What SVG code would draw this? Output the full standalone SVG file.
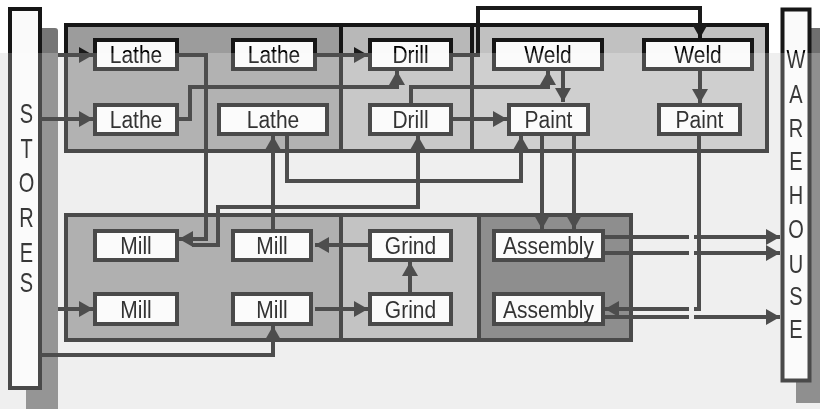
<svg xmlns="http://www.w3.org/2000/svg" width="820" height="409" viewBox="0 0 820 409">
<style>
.box{fill:#fbfbfb;stroke:#4a4a4a;stroke-width:4}
.lbl{font-family:"Liberation Sans",Arial,sans-serif;font-size:21px;fill:#333;text-anchor:middle}
.vl{font-family:"Liberation Sans",Arial,sans-serif;font-size:20px;fill:#383838;text-anchor:middle}
.con{fill:none;stroke:#4d4d4d;stroke-width:4}
.arr{marker-end:url(#ah)}
.frame{fill:none;stroke:#4a4a4a;stroke-width:4}
.dv{stroke:#4a4a4a;stroke-width:4}
.bar{fill:#fbfbfb;stroke:#4a4a4a;stroke-width:4}
</style>
<defs>
<marker id="ah" viewBox="0 0 14 16" markerWidth="14" markerHeight="16" refX="14" refY="8" orient="auto" markerUnits="userSpaceOnUse"><path d="M0,0 L14,8 L0,16 Z" fill="#4d4d4d"/></marker>
</defs>
<rect x="0" y="0" width="820" height="409" fill="#efefef"/>
<rect x="0" y="0" width="820" height="53" fill="#ffffff"/>

<g id="stores">
<rect x="26" y="28" width="32" height="400" rx="3" fill="#959595"/>
<rect class="bar" x="10" y="9" width="30" height="379"/>
<text class="vl" transform="translate(26.5,123) scale(1,1.35)">S</text>
<text class="vl" transform="translate(26.5,158) scale(1,1.35)">T</text>
<text class="vl" transform="translate(26.5,192) scale(1,1.35)">O</text>
<text class="vl" transform="translate(26.5,227) scale(1,1.35)">R</text>
<text class="vl" transform="translate(26.5,262) scale(1,1.35)">E</text>
<text class="vl" transform="translate(26.5,292) scale(1,1.35)">S</text>
</g>

<g id="warehouse">
<rect x="796" y="28" width="40" height="375" fill="#8f8f8f"/>
<rect class="bar" x="782.5" y="9.5" width="27" height="371"/>
<text class="vl" transform="translate(796,68) scale(1,1.25)">W</text>
<text class="vl" transform="translate(796,103) scale(1,1.25)">A</text>
<text class="vl" transform="translate(796,137) scale(1,1.25)">R</text>
<text class="vl" transform="translate(796,170) scale(1,1.25)">E</text>
<text class="vl" transform="translate(796,204) scale(1,1.25)">H</text>
<text class="vl" transform="translate(796,238) scale(1,1.25)">O</text>
<text class="vl" transform="translate(796,273) scale(1,1.25)">U</text>
<text class="vl" transform="translate(796,305) scale(1,1.25)">S</text>
<text class="vl" transform="translate(796,338) scale(1,1.25)">E</text>
</g>

<g id="upper-shop">
<rect x="66" y="25" width="275" height="126" fill="#b2b2b2"/>
<rect x="341" y="25" width="131" height="126" fill="#c8c8c8"/>
<rect x="472" y="25" width="295" height="126" fill="#cfcfcf"/>
<line class="dv" x1="341" y1="25" x2="341" y2="151"/>
<line class="dv" x1="472" y1="25" x2="472" y2="151"/>
<rect class="frame" x="66" y="25" width="701" height="126"/>
</g>

<g id="lower-shop">
<rect x="66" y="215" width="275" height="125" fill="#b0b0b0"/>
<rect x="341" y="215" width="138" height="125" fill="#c3c3c3"/>
<rect x="479" y="215" width="152" height="125" fill="#8e8e8e"/>
<line class="dv" x1="341" y1="215" x2="341" y2="340"/>
<line class="dv" x1="479" y1="215" x2="479" y2="340"/>
<rect class="frame" x="66" y="215" width="565" height="125"/>
</g>

<g id="lathe1"><rect class="box" x="95" y="40" width="82" height="29"/><text class="lbl" transform="translate(136,63) scale(1,1.12)">Lathe</text></g>
<g id="lathe2"><rect class="box" x="233" y="40" width="82" height="29"/><text class="lbl" transform="translate(274,63) scale(1,1.12)">Lathe</text></g>
<g id="drill1"><rect class="box" x="370" y="40" width="81" height="29"/><text class="lbl" transform="translate(410.5,63) scale(1,1.12)">Drill</text></g>
<g id="weld1"><rect class="box" x="494" y="40" width="108" height="29"/><text class="lbl" transform="translate(548,63) scale(1,1.12)">Weld</text></g>
<g id="weld2"><rect class="box" x="644" y="40" width="108" height="29"/><text class="lbl" transform="translate(698,63) scale(1,1.12)">Weld</text></g>

<g id="lathe3"><rect class="box" x="95" y="105" width="82" height="29"/><text class="lbl" transform="translate(136,128) scale(1,1.12)">Lathe</text></g>
<g id="lathe4"><rect class="box" x="219" y="105" width="108" height="29"/><text class="lbl" transform="translate(273,128) scale(1,1.12)">Lathe</text></g>
<g id="drill2"><rect class="box" x="370" y="105" width="81" height="29"/><text class="lbl" transform="translate(410.5,128) scale(1,1.12)">Drill</text></g>
<g id="paint1"><rect class="box" x="509" y="105" width="79" height="29"/><text class="lbl" transform="translate(548.5,128) scale(1,1.12)">Paint</text></g>
<g id="paint2"><rect class="box" x="659" y="105" width="81" height="29"/><text class="lbl" transform="translate(699.5,128) scale(1,1.12)">Paint</text></g>

<g id="mill1"><rect class="box" x="95" y="231" width="82" height="29"/><text class="lbl" transform="translate(136,254) scale(1,1.12)">Mill</text></g>
<g id="mill2"><rect class="box" x="233" y="231" width="78" height="29"/><text class="lbl" transform="translate(272,254) scale(1,1.12)">Mill</text></g>
<g id="grind1"><rect class="box" x="370" y="231" width="81" height="29"/><text class="lbl" transform="translate(410.5,254) scale(1,1.12)">Grind</text></g>
<g id="assembly1"><rect class="box" x="494" y="231" width="109" height="29"/><text class="lbl" transform="translate(548.5,254) scale(1,1.12)">Assembly</text></g>

<g id="mill3"><rect class="box" x="95" y="294" width="82" height="30"/><text class="lbl" transform="translate(136,317.5) scale(1,1.12)">Mill</text></g>
<g id="mill4"><rect class="box" x="233" y="294" width="78" height="30"/><text class="lbl" transform="translate(272,317.5) scale(1,1.12)">Mill</text></g>
<g id="grind2"><rect class="box" x="370" y="294" width="81" height="30"/><text class="lbl" transform="translate(410.5,317.5) scale(1,1.12)">Grind</text></g>
<g id="assembly2"><rect class="box" x="494" y="294" width="109" height="30"/><text class="lbl" transform="translate(548.5,317.5) scale(1,1.12)">Assembly</text></g>

<g id="connectors">
<path class="con arr" d="M58,55 H93"/>
<path class="con arr" d="M40,119 H93"/>
<path class="con arr" d="M179,55 H206 V239 H179"/>
<path class="con arr" d="M192,245 H218 V207 H418 V136"/>
<path class="con arr" d="M179,119 H190 V87 H397 V71"/>
<path class="con arr" d="M317,55 H368"/>
<path class="con arr" d="M411,103 V87 H548 V71"/>
<path class="con arr" d="M563,71 V102"/>
<path class="con arr" d="M453,119 H507"/>
<path class="con arr" d="M453,55 H478 V8 H700 V38"/>
<path class="con arr" d="M700,71 V103"/>
<path class="con arr" d="M605,237 H689 M694,237 H780"/>
<path class="con arr" d="M605,253 H689 M694,253 H780"/>
<path class="con arr" d="M605,317 H689 M694,317 H780"/>
<path class="con arr" d="M699,136 V309 H694 M689,309 H605"/>
<path class="con arr" d="M542,136 V229"/>
<path class="con arr" d="M574,136 V229"/>
<path class="con arr" d="M287,136 V181 H521 V136"/>
<path class="con arr" d="M273,229 V136"/>
<path class="con arr" d="M368,245 H315"/>
<path class="con arr" d="M315,309 H368"/>
<path class="con arr" d="M410,292 V262"/>
<path class="con arr" d="M58,309 H93"/>
<path class="con arr" d="M40,355 H273 V326"/>
</g>

<rect x="0" y="0" width="820" height="53" fill="#c6c6c6" style="mix-blend-mode:color-burn"/>
</svg>
